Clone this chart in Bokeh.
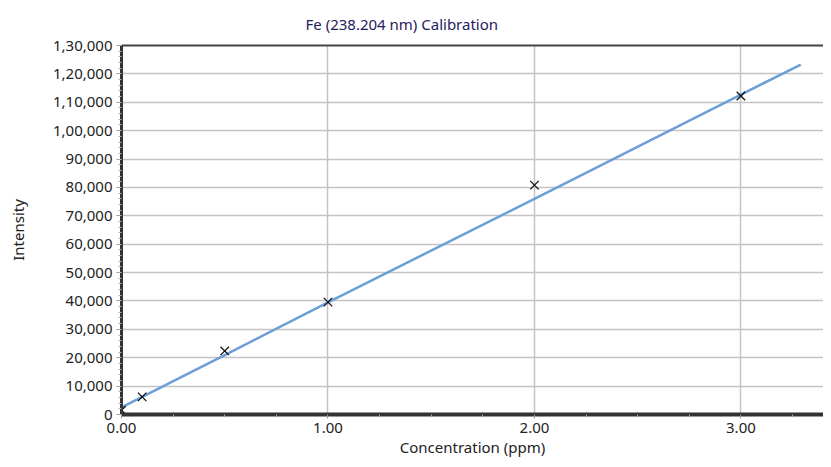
from bokeh.plotting import figure
from bokeh.models import (Range1d, FixedTicker, LinearAxis, PrintfTickFormatter)
from bokeh.embed import file_html
from bokeh.resources import INLINE

# ---- data ----
std_conc = [0.0, 0.1, 0.5, 1.0, 2.0, 3.0]
std_intensity = [1500, 6200, 22400, 39600, 80800, 112200]

fit_conc = [0.0, 0.1, 0.5, 1.0, 2.0, 2.3, 3.0, 3.29]
fit_intensity = [2500, 6200, 20900, 39500, 76000, 87000, 112700, 123300]

y_ticks = [0, 10000, 20000, 30000, 40000, 50000, 60000, 70000, 80000,
           90000, 100000, 110000, 120000, 130000]
y_tick_labels = ["0", "10,000", "20,000", "30,000", "40,000", "50,000",
                 "60,000", "70,000", "80,000", "90,000", "1,00,000",
                 "1,10,000", "1,20,000", "1,30,000"]
x_ticks = [0, 1, 2, 3]

title_text = "Fe (238.204 nm) Calibration"
x_label = "Concentration (ppm)"
y_label = "Intensity"

FONT = "Noto Sans"

p = figure(width=823, height=459, output_backend="svg", toolbar_location=None,
           x_range=Range1d(0, 3.40), y_range=Range1d(0, 130000),
           min_border_left=121, min_border_right=0, min_border_top=10,
           min_border_bottom=0)

p.title.text = title_text
p.title.align = "left"
p.title.offset = 184
p.title.text_font = FONT
p.title.text_font_size = "15px"
p.title.text_font_style = "normal"
p.title.text_color = "#1f2060"
p.title.standoff = 23

p.outline_line_color = None
p.background_fill_color = "white"
p.border_fill_color = "white"

# grid
p.xgrid.ticker = FixedTicker(ticks=x_ticks)
p.ygrid.ticker = FixedTicker(ticks=y_ticks)
p.grid.grid_line_color = "#c4c4c4"
p.grid.grid_line_width = 1.5

# x axis
xa = p.xaxis[0]
xa.ticker = FixedTicker(ticks=x_ticks,
                        minor_ticks=[0.25, 0.5, 0.75, 1.25, 1.5, 1.75,
                                     2.25, 2.5, 2.75, 3.25])
xa.formatter = PrintfTickFormatter(format="%.2f")
xa.axis_line_color = "#333333"
xa.axis_line_width = 4
xa.major_tick_line_color = "#999999"
xa.major_tick_in = 0
xa.major_tick_out = 4
xa.minor_tick_line_color = "#aaaaaa"
xa.minor_tick_in = 0
xa.minor_tick_out = 3
xa.major_label_text_font = FONT
xa.major_label_text_font_size = "15px"
xa.major_label_text_color = "#222222"
xa.major_label_standoff = 4
xa.axis_label = x_label
xa.axis_label_text_font = FONT
xa.axis_label_text_font_size = "15px"
xa.axis_label_text_font_style = "normal"
xa.axis_label_text_color = "#222222"
xa.axis_label_standoff = 1

# y axis
ya = p.yaxis[0]
ya.ticker = FixedTicker(ticks=y_ticks,
                        minor_ticks=[v for v in range(0, 130001, 2000)])
ya.major_label_overrides = {t: l for t, l in zip(y_ticks, y_tick_labels)}
ya.axis_line_color = "#333333"
ya.axis_line_width = 3
ya.major_tick_line_color = "#999999"
ya.major_tick_in = 0
ya.major_tick_out = 5
ya.minor_tick_line_color = "#b0b0b0"
ya.minor_tick_in = 0
ya.minor_tick_out = 3
ya.major_label_text_font = FONT
ya.major_label_text_font_size = "15px"
ya.major_label_text_color = "#222222"
ya.major_label_standoff = 4
ya.axis_label = y_label
ya.axis_label_text_font = FONT
ya.axis_label_text_font_size = "15px"
ya.axis_label_text_font_style = "normal"
ya.axis_label_text_color = "#222222"
ya.axis_label_standoff = 22

# top border line as an empty axis
top = LinearAxis(ticker=FixedTicker(ticks=[]), axis_line_color="#444444",
                 axis_line_width=2, major_tick_line_color=None,
                 minor_tick_line_color=None, major_label_text_font_size="0px")
p.add_layout(top, "above")

# fit line and standards
p.line(fit_conc, fit_intensity, line_color="#6e9ed8", line_width=2.5)
p.scatter(std_conc, std_intensity, marker="x", size=12, line_color="#111111",
          line_width=1.3)

open("out.html", "w").write(file_html(p, INLINE))
